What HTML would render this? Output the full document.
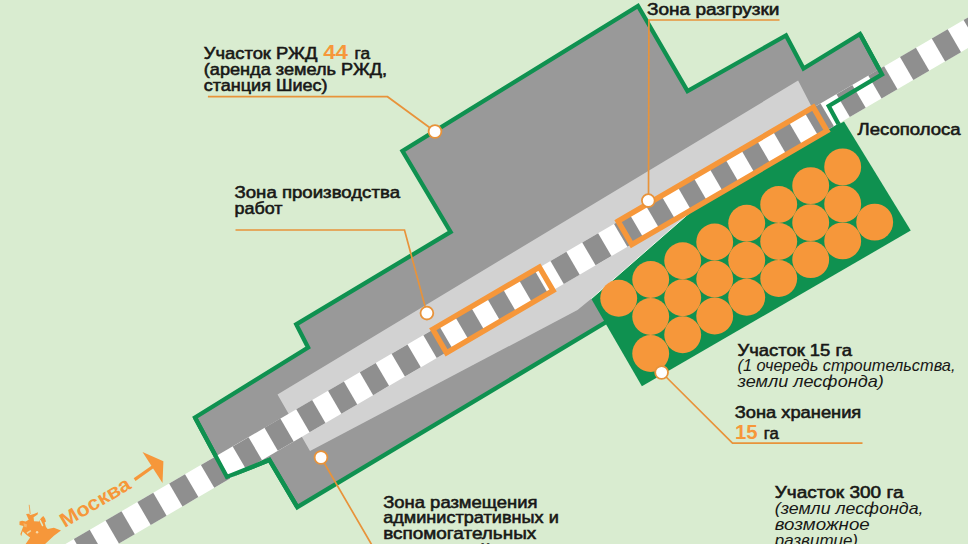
<!DOCTYPE html>
<html lang="ru">
<head>
<meta charset="utf-8">
<title>Шиес</title>
<style>
html,body{margin:0;padding:0;background:#d9ecd0;}
body{width:968px;height:544px;overflow:hidden;}
svg{display:block;}
text{font-family:"Liberation Sans",sans-serif;}
</style>
</head>
<body>
<svg width="968" height="544" viewBox="0 0 968 544">
<rect x="0" y="0" width="968" height="544" fill="#d9ecd0"/>
<polygon points="195.00,417.50 308.10,347.50 296.25,324.40 450.60,231.90 402.50,151.00 638.00,6.00 687.50,91.00 786.00,35.50 803.50,68.50 860.00,34.00 882.00,74.40 828.75,106.00 838.50,124.00 700.00,215.00 605.20,322.60 297.30,507.20 269.40,460.00 226.90,476.90" fill="#999999" stroke="#0f9150" stroke-width="4.3" stroke-linejoin="miter"/>
<polygon points="277.50,394.40 798.10,80.60 811.00,105.50 828.00,112.00 700.00,210.00 591.25,298.75 577.50,310.00 310.00,451.00" fill="#d2d2d2"/>
<polygon points="591.25,298.75 694.71,208.41 826.35,131.60 844.00,121.50 910.75,230.60 641.90,386.25" fill="#0f9150"/>
<line x1="591.25" y1="298.75" x2="694.71" y2="208.41" stroke="#eef5ea" stroke-width="1"/>
<circle cx="618.70" cy="298.30" r="18.45" fill="#f6973a"/>
<circle cx="650.70" cy="279.53" r="18.45" fill="#f6973a"/>
<circle cx="682.70" cy="260.75" r="18.45" fill="#f6973a"/>
<circle cx="714.70" cy="241.98" r="18.45" fill="#f6973a"/>
<circle cx="746.70" cy="223.20" r="18.45" fill="#f6973a"/>
<circle cx="778.70" cy="204.43" r="18.45" fill="#f6973a"/>
<circle cx="810.70" cy="185.66" r="18.45" fill="#f6973a"/>
<circle cx="842.69" cy="166.88" r="18.45" fill="#f6973a"/>
<circle cx="650.70" cy="316.53" r="18.45" fill="#f6973a"/>
<circle cx="682.70" cy="297.75" r="18.45" fill="#f6973a"/>
<circle cx="714.70" cy="278.98" r="18.45" fill="#f6973a"/>
<circle cx="746.70" cy="260.20" r="18.45" fill="#f6973a"/>
<circle cx="778.70" cy="241.43" r="18.45" fill="#f6973a"/>
<circle cx="810.70" cy="222.66" r="18.45" fill="#f6973a"/>
<circle cx="842.69" cy="203.88" r="18.45" fill="#f6973a"/>
<circle cx="650.70" cy="353.53" r="18.45" fill="#f6973a"/>
<circle cx="682.70" cy="334.75" r="18.45" fill="#f6973a"/>
<circle cx="714.70" cy="315.98" r="18.45" fill="#f6973a"/>
<circle cx="746.70" cy="297.20" r="18.45" fill="#f6973a"/>
<circle cx="778.70" cy="278.43" r="18.45" fill="#f6973a"/>
<circle cx="810.70" cy="259.66" r="18.45" fill="#f6973a"/>
<circle cx="842.69" cy="240.88" r="18.45" fill="#f6973a"/>
<circle cx="874.69" cy="222.11" r="18.45" fill="#f6973a"/>
<polygon points="-77.15,627.17 1035.06,-21.71 1048.41,1.18 -63.79,650.06" fill="#ffffff"/>
<polygon points="-85.09,631.81 -69.20,622.54 -55.85,645.42 -71.74,654.69" fill="#8f8f8f"/>
<polygon points="-53.31,613.27 -37.42,604.00 -24.07,626.89 -39.96,636.16" fill="#8f8f8f"/>
<polygon points="-21.53,594.73 -5.65,585.46 7.71,608.35 -8.18,617.62" fill="#8f8f8f"/>
<polygon points="10.24,576.19 26.13,566.92 39.48,589.81 23.60,599.08" fill="#8f8f8f"/>
<polygon points="42.02,557.65 57.91,548.38 71.26,571.27 55.37,580.54" fill="#8f8f8f"/>
<polygon points="73.80,539.11 89.69,529.84 103.04,552.73 87.15,562.00" fill="#8f8f8f"/>
<polygon points="105.57,520.57 121.46,511.30 134.82,534.19 118.93,543.46" fill="#8f8f8f"/>
<polygon points="137.35,502.03 153.24,492.76 166.59,515.65 150.71,524.92" fill="#8f8f8f"/>
<polygon points="169.13,483.49 185.02,474.22 198.37,497.11 182.48,506.38" fill="#8f8f8f"/>
<polygon points="200.91,464.95 216.79,455.68 230.15,478.57 214.26,487.84" fill="#8f8f8f"/>
<polygon points="232.68,446.41 248.57,437.14 261.93,460.03 246.04,469.30" fill="#8f8f8f"/>
<polygon points="264.46,427.87 280.35,418.60 293.70,441.49 277.81,450.76" fill="#8f8f8f"/>
<polygon points="296.24,409.33 312.13,400.06 325.48,422.95 309.59,432.22" fill="#8f8f8f"/>
<polygon points="328.02,390.79 343.90,381.52 357.26,404.41 341.37,413.68" fill="#8f8f8f"/>
<polygon points="359.79,372.25 375.68,362.98 389.03,385.87 373.15,395.14" fill="#8f8f8f"/>
<polygon points="391.57,353.71 407.46,344.44 420.81,367.33 404.92,376.60" fill="#8f8f8f"/>
<polygon points="423.35,335.18 439.24,325.91 452.59,348.79 436.70,358.06" fill="#8f8f8f"/>
<polygon points="455.12,316.64 471.01,307.37 484.37,330.26 468.48,339.52" fill="#8f8f8f"/>
<polygon points="486.90,298.10 502.79,288.83 516.14,311.72 500.26,320.99" fill="#8f8f8f"/>
<polygon points="518.68,279.56 534.57,270.29 547.92,293.18 532.03,302.45" fill="#8f8f8f"/>
<polygon points="550.46,261.02 566.34,251.75 579.70,274.64 563.81,283.91" fill="#8f8f8f"/>
<polygon points="582.23,242.48 598.12,233.21 611.48,256.10 595.59,265.37" fill="#8f8f8f"/>
<polygon points="614.01,223.94 629.90,214.67 643.25,237.56 627.36,246.83" fill="#8f8f8f"/>
<polygon points="645.79,205.40 661.68,196.13 675.03,219.02 659.14,228.29" fill="#8f8f8f"/>
<polygon points="677.57,186.86 693.45,177.59 706.81,200.48 690.92,209.75" fill="#8f8f8f"/>
<polygon points="709.34,168.32 725.23,159.05 738.58,181.94 722.70,191.21" fill="#8f8f8f"/>
<polygon points="741.12,149.78 757.01,140.51 770.36,163.40 754.47,172.67" fill="#8f8f8f"/>
<polygon points="772.90,131.24 788.79,121.97 802.14,144.86 786.25,154.13" fill="#8f8f8f"/>
<polygon points="804.67,112.70 820.56,103.43 833.92,126.32 818.03,135.59" fill="#8f8f8f"/>
<polygon points="836.45,94.16 852.34,84.89 865.69,107.78 849.81,117.05" fill="#8f8f8f"/>
<polygon points="868.23,75.62 884.12,66.35 897.47,89.24 881.58,98.51" fill="#8f8f8f"/>
<polygon points="900.01,57.08 915.89,47.81 929.25,70.70 913.36,79.97" fill="#8f8f8f"/>
<polygon points="931.78,38.54 947.67,29.28 961.03,52.16 945.14,61.43" fill="#8f8f8f"/>
<polygon points="963.56,20.01 979.45,10.74 992.80,33.63 976.91,42.89" fill="#8f8f8f"/>
<polygon points="995.34,1.47 1011.23,-7.80 1024.58,15.09 1008.69,24.36" fill="#8f8f8f"/>
<polyline points="195.00,417.50 226.90,476.90 269.40,460.00 297.30,507.20" fill="none" stroke="#0f9150" stroke-width="4.3" stroke-linejoin="miter"/>
<polyline points="860.00,34.00 882.00,74.40 828.75,106.00 838.50,124.00" fill="none" stroke="#0f9150" stroke-width="4.3" stroke-linejoin="miter"/>
<polygon points="432.81,329.25 539.37,267.08 553.07,290.58 446.52,352.74" fill="none" stroke="#f6973a" stroke-width="5.40" stroke-linejoin="miter"/>
<polygon points="618.07,221.16 813.29,107.27 826.99,130.77 631.78,244.66" fill="none" stroke="#f6973a" stroke-width="5.40" stroke-linejoin="miter"/>
<polyline points="207.90,96.70 387.50,96.70 435.00,131.50" fill="none" stroke="#e8933a" stroke-width="1.7"/>
<polyline points="235.50,230.00 404.50,230.00 426.90,313.10" fill="none" stroke="#e8933a" stroke-width="1.7"/>
<polyline points="779.50,20.00 648.90,20.00 648.50,200.50" fill="none" stroke="#e8933a" stroke-width="1.7"/>
<polyline points="661.60,372.50 732.50,443.20 862.50,443.20" fill="none" stroke="#e8933a" stroke-width="1.7"/>
<polyline points="321.00,457.50 371.25,544.00 380.00,560.00" fill="none" stroke="#e8933a" stroke-width="1.7"/>
<circle cx="435.00" cy="131.50" r="6.4" fill="#ffffff" stroke="#e8933a" stroke-width="1.8"/>
<circle cx="426.90" cy="313.10" r="6.4" fill="#ffffff" stroke="#e8933a" stroke-width="1.8"/>
<circle cx="648.30" cy="200.60" r="6.4" fill="#ffffff" stroke="#e8933a" stroke-width="1.8"/>
<circle cx="661.60" cy="372.50" r="6.4" fill="#ffffff" stroke="#e8933a" stroke-width="1.8"/>
<circle cx="321.00" cy="457.50" r="6.4" fill="#ffffff" stroke="#e8933a" stroke-width="1.8"/>
<text x="203.75" y="59.00" font-size="15.70" font-weight="normal" font-style="normal" fill="#181816" textLength="113.75" lengthAdjust="spacingAndGlyphs" stroke="#181816" stroke-width="0.55" >Участок РЖД</text>
<text x="323.25" y="59.00" font-size="19.40" font-weight="bold" font-style="normal" fill="#f6973a" textLength="24.75" lengthAdjust="spacingAndGlyphs" >44</text>
<text x="354.50" y="59.00" font-size="15.70" font-weight="normal" font-style="normal" fill="#181816" textLength="15.50" lengthAdjust="spacingAndGlyphs" stroke="#181816" stroke-width="0.55" >га</text>
<text x="203.75" y="74.80" font-size="15.70" font-weight="normal" font-style="normal" fill="#181816" textLength="183.25" lengthAdjust="spacingAndGlyphs" stroke="#181816" stroke-width="0.55" >(аренда земель РЖД,</text>
<text x="203.75" y="90.80" font-size="15.70" font-weight="normal" font-style="normal" fill="#181816" textLength="123.75" lengthAdjust="spacingAndGlyphs" stroke="#181816" stroke-width="0.55" >станция Шиес)</text>
<text x="234.50" y="198.25" font-size="15.70" font-weight="normal" font-style="normal" fill="#181816" textLength="165.50" lengthAdjust="spacingAndGlyphs" stroke="#181816" stroke-width="0.55" >Зона производства</text>
<text x="234.50" y="213.75" font-size="15.70" font-weight="normal" font-style="normal" fill="#181816" textLength="48.00" lengthAdjust="spacingAndGlyphs" stroke="#181816" stroke-width="0.55" >работ</text>
<text x="647.00" y="15.00" font-size="15.70" font-weight="normal" font-style="normal" fill="#181816" textLength="132.50" lengthAdjust="spacingAndGlyphs" stroke="#181816" stroke-width="0.55" >Зона разгрузки</text>
<text x="857.50" y="135.20" font-size="15.70" font-weight="normal" font-style="normal" fill="#181816" textLength="103.00" lengthAdjust="spacingAndGlyphs" stroke="#181816" stroke-width="0.55" >Лесополоса</text>
<text x="737.50" y="355.60" font-size="15.70" font-weight="normal" font-style="normal" fill="#181816" textLength="114.50" lengthAdjust="spacingAndGlyphs" stroke="#181816" stroke-width="0.55" >Участок 15 га</text>
<text x="737.50" y="371.25" font-size="15.70" font-weight="normal" font-style="italic" fill="#181816" textLength="218.00" lengthAdjust="spacingAndGlyphs" >(1 очередь строительства,</text>
<text x="737.50" y="387.00" font-size="15.70" font-weight="normal" font-style="italic" fill="#181816" textLength="146.25" lengthAdjust="spacingAndGlyphs" >земли лесфонда)</text>
<text x="734.80" y="417.50" font-size="15.70" font-weight="normal" font-style="normal" fill="#181816" textLength="126.45" lengthAdjust="spacingAndGlyphs" stroke="#181816" stroke-width="0.55" >Зона хранения</text>
<text x="734.90" y="438.75" font-size="20.80" font-weight="bold" font-style="normal" fill="#f6973a" textLength="22.60" lengthAdjust="spacingAndGlyphs" >15</text>
<text x="763.75" y="438.75" font-size="15.70" font-weight="normal" font-style="normal" fill="#181816" textLength="15.00" lengthAdjust="spacingAndGlyphs" stroke="#181816" stroke-width="0.55" >га</text>
<text x="774.75" y="497.50" font-size="15.70" font-weight="normal" font-style="normal" fill="#181816" textLength="128.75" lengthAdjust="spacingAndGlyphs" stroke="#181816" stroke-width="0.55" >Участок 300 га</text>
<text x="774.75" y="513.75" font-size="15.70" font-weight="normal" font-style="italic" fill="#181816" textLength="148.75" lengthAdjust="spacingAndGlyphs" >(земли лесфонда,</text>
<text x="774.75" y="529.50" font-size="15.70" font-weight="normal" font-style="italic" fill="#181816" textLength="95.00" lengthAdjust="spacingAndGlyphs" >возможное</text>
<text x="774.75" y="546.00" font-size="15.70" font-weight="normal" font-style="italic" fill="#181816" textLength="83.25" lengthAdjust="spacingAndGlyphs" >развитие)</text>
<text x="383.20" y="507.50" font-size="15.70" font-weight="normal" font-style="normal" fill="#181816" textLength="154.30" lengthAdjust="spacingAndGlyphs" stroke="#181816" stroke-width="0.55" >Зона размещения</text>
<text x="383.20" y="523.25" font-size="15.70" font-weight="normal" font-style="normal" fill="#181816" textLength="175.55" lengthAdjust="spacingAndGlyphs" stroke="#181816" stroke-width="0.55" >административных и</text>
<text x="383.20" y="538.75" font-size="15.70" font-weight="normal" font-style="normal" fill="#181816" textLength="153.05" lengthAdjust="spacingAndGlyphs" stroke="#181816" stroke-width="0.55" >вспомогательных</text>
<text x="383.20" y="555.50" font-size="15.70" font-weight="normal" font-style="normal" fill="#181816" textLength="107.80" lengthAdjust="spacingAndGlyphs" stroke="#181816" stroke-width="0.55" >помещений</text>
<text transform="translate(64.8,527.9) rotate(-30.6)" font-size="20" font-weight="bold" fill="#f6973a" textLength="78.5" lengthAdjust="spacingAndGlyphs">Москва</text>
<line x1="134.6" y1="479.6" x2="153.5" y2="466.2" stroke="#f6973a" stroke-width="3.2"/>
<polygon points="142.5,451.9 163.4,461.25 162.5,483.1" fill="#f6973a"/>
<polygon points="25.65,544.00 30.10,537.50 27.00,535.30 22.60,531.30 21.20,536.20 20.40,534.00 22.10,529.50 23.40,526.00 19.50,525.10 19.50,521.60 22.10,520.70 25.70,521.60 28.70,519.80 27.00,515.90 26.10,514.10 28.70,513.70 30.50,515.00 34.50,513.70 38.00,512.30 37.60,514.50 33.60,517.20 34.00,521.20 38.90,521.60 41.10,518.10 43.30,515.90 45.10,518.50 46.00,521.60 44.60,522.50 46.00,526.90 47.70,529.10 53.90,527.80 61.00,530.40 53.90,535.70 45.10,544.00" fill="#f6973a"/>
<line x1="29.2" y1="504.8" x2="30.2" y2="514" stroke="#f6973a" stroke-width="0.8"/>
<circle cx="37.1" cy="532.3" r="1.2" fill="#f7d9a8"/>
<path d="M26.5,532.5 L30.5,530 L31.2,531.2 L27.4,534 Z" fill="#ecd9a8"/>
<path d="M39.3,520.5 L40.6,519.8 L43.4,525.6 L42.2,526.4 Z" fill="#d9ecd0"/>
<path d="M23.5,523 L27,524.5 L26.5,527.5 L24,526.5 Z" fill="#f4b56a"/>
</svg>
</body>
</html>
